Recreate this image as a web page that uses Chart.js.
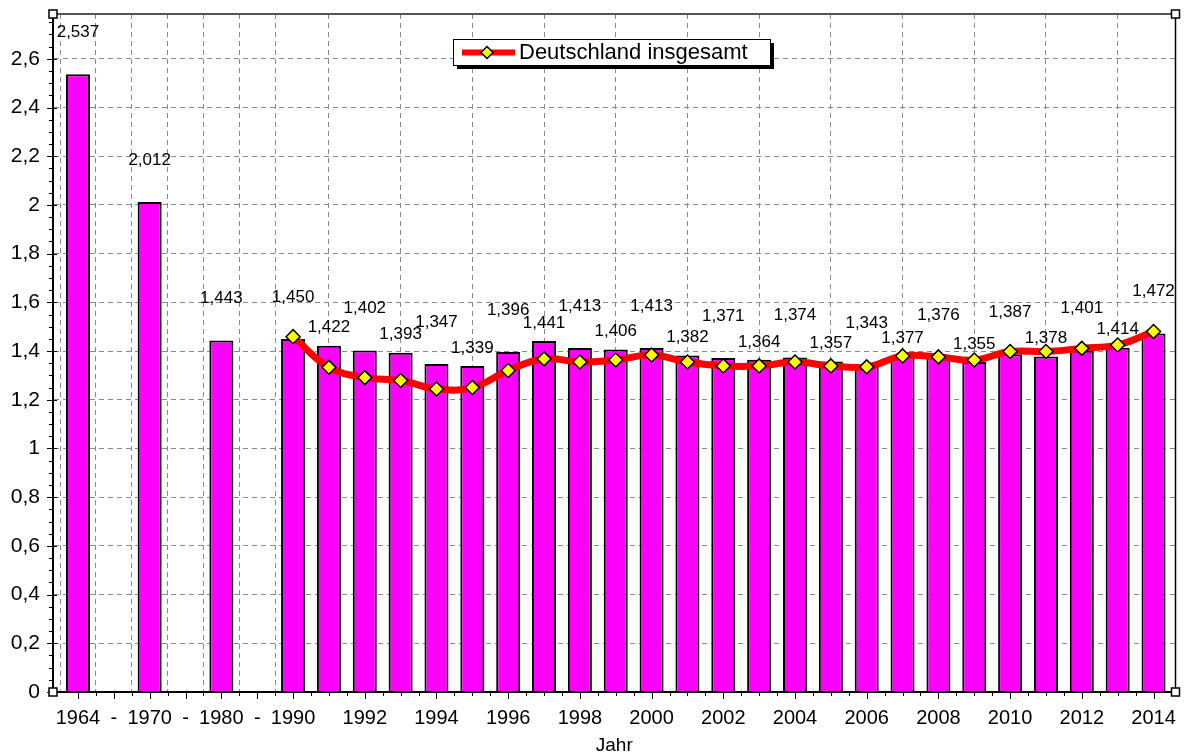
<!DOCTYPE html>
<html>
<head>
<meta charset="utf-8">
<script src="https://cdn.jsdelivr.net/npm/chart.js@4/dist/chart.umd.min.js"></script>
<style>
  html, body { margin: 0; padding: 0; background: #fff; }
  #wrap { width: 1184px; height: 755px; }
</style>
</head>
<body>
<div id="wrap"><canvas id="c" width="1184" height="755"></canvas></div>
<script>
// ---- data ----
const categories = ["1964","-","1970","-","1980","-","1990","1991","1992","1993","1994","1995","1996","1997","1998","1999","2000","2001","2002","2003","2004","2005","2006","2007","2008","2009","2010","2011","2012","2013","2014"];
const barValues = [2.537,null,2.012,null,1.443,null,1.450,1.422,1.402,1.393,1.347,1.339,1.396,1.441,1.413,1.406,1.413,1.382,1.371,1.364,1.374,1.357,1.343,1.377,1.376,1.355,1.387,1.378,1.401,1.414,1.472];
const lineYears = ["1990","1991","1992","1993","1994","1995","1996","1997","1998","1999","2000","2001","2002","2003","2004","2005","2006","2007","2008","2009","2010","2011","2012","2013","2014"];
const lineValues = [1.459,1.333,1.291,1.279,1.244,1.250,1.320,1.368,1.355,1.363,1.384,1.355,1.339,1.339,1.355,1.339,1.335,1.380,1.376,1.363,1.398,1.398,1.411,1.425,1.480];
const lineLabel = "Deutschland insgesamt";
const yTicks = [0,0.2,0.4,0.6,0.8,1,1.2,1.4,1.6,1.8,2,2.2,2.4,2.6];
const yTickLabels = ["0","0,2","0,4","0,6","0,8","1","1,2","1,4","1,6","1,8","2","2,2","2,4","2,6"];
const xTickLabels = ["1964","-","1970","-","1980","-","1990","1992","1994","1996","1998","2000","2002","2004","2006","2008","2010","2012","2014"];
const xTitle = "Jahr";

// ---- derived structures ----
const FONT = "'Liberation Sans', Arial, sans-serif";
const barData = categories.map((c, i) => ({ x: i, y: barValues[i] })).filter(p => p.y !== null);
const lineData = lineYears.map((yr, i) => ({ x: categories.indexOf(yr), y: lineValues[i] }));
const xTickIdx = xTickLabels.map((lab, i) => i < 6 ? i : categories.indexOf(lab));

const fmt = v => v.toFixed(3).replace('.', ',');

const decor = {
  id: 'decor',
  beforeDraw(chart) {
    const ctx = chart.ctx;
    ctx.save();
    ctx.fillStyle = '#fff';
    ctx.fillRect(0, 0, chart.width, chart.height);
    ctx.restore();
  },
  afterDatasetsDraw(chart) {
    const ctx = chart.ctx;
    const meta = chart.getDatasetMeta(0);
    ctx.save();
    ctx.font = '17px ' + FONT;
    ctx.fillStyle = '#000';
    ctx.textAlign = 'center';
    ctx.textBaseline = 'middle';
    meta.data.forEach((el, j) => {
      const p = chart.data.datasets[0].data[j];
      const off = (p.x % 2 === 0) ? 42 : 18;
      ctx.fillText(fmt(p.y), el.x, el.y - off);
    });
    ctx.restore();
  },
  afterDraw(chart) {
    const ctx = chart.ctx;
    const a = chart.chartArea;
    const xs = chart.scales.x, ys = chart.scales.y;
    ctx.save();
    // top & right frame
    ctx.lineWidth = 2;
    ctx.strokeStyle = '#555';
    ctx.beginPath(); ctx.moveTo(a.left, a.top); ctx.lineTo(a.right, a.top); ctx.stroke();
    ctx.lineWidth = 1.5;
    ctx.strokeStyle = '#000';
    ctx.beginPath(); ctx.moveTo(a.right, a.top); ctx.lineTo(a.right, a.bottom); ctx.stroke();
    // y ticks
    ctx.lineWidth = 1;
    ctx.strokeStyle = '#000';
    for (let k = 0; k <= 55; k++) {
      const v = k * 0.05;
      if (v > ys.max) break;
      const py = Math.round(ys.getPixelForValue(v)) + 0.5;
      const major = k % 4 === 0;
      ctx.beginPath();
      ctx.moveTo(a.left - (major ? 6 : 4), py);
      ctx.lineTo(a.left + (major ? 4 : 0), py);
      ctx.stroke();
    }
    // x ticks
    for (let k = 0; k <= 60; k++) {
      const v = k * 0.5;
      const px = Math.round(xs.getPixelForValue(v)) + 0.5;
      ctx.beginPath();
      ctx.moveTo(px, a.bottom);
      ctx.lineTo(px, a.bottom + 4);
      ctx.stroke();
    }
    xTickIdx.forEach(i => {
      const px = Math.round(xs.getPixelForValue(i)) + 0.5;
      ctx.beginPath();
      ctx.moveTo(px, a.bottom);
      ctx.lineTo(px, a.bottom + 7);
      ctx.stroke();
    });
    // corner handles
    ctx.fillStyle = '#fff';
    ctx.strokeStyle = '#000';
    ctx.lineWidth = 1.5;
    [[a.left, a.top], [a.right, a.top], [a.left, a.bottom], [a.right, a.bottom]].forEach(([cx, cy]) => {
      ctx.fillRect(cx - 4, cy - 4, 8, 8);
      ctx.strokeRect(cx - 4, cy - 4, 8, 8);
    });
    // legend box
    const ds = chart.data.datasets[1];
    const lx = a.left + 400, ly = a.top + 25, lw = 317, lh = 26;
    ctx.fillStyle = '#000';
    ctx.fillRect(lx + 4, ly + 4, lw, lh);
    ctx.fillStyle = '#fff';
    ctx.fillRect(lx, ly, lw, lh);
    ctx.lineWidth = 1;
    ctx.strokeStyle = '#000';
    ctx.strokeRect(lx + 0.5, ly + 0.5, lw, lh);
    const cy = ly + lh / 2 + 0.5;
    ctx.strokeStyle = ds.borderColor;
    ctx.lineWidth = 6;
    ctx.beginPath(); ctx.moveTo(lx + 9, cy); ctx.lineTo(lx + 62, cy); ctx.stroke();
    const mx = lx + 34;
    ctx.fillStyle = ds.pointBackgroundColor;
    ctx.strokeStyle = '#000';
    ctx.lineWidth = 1.5;
    ctx.beginPath();
    ctx.moveTo(mx, cy - 6); ctx.lineTo(mx + 6, cy); ctx.lineTo(mx, cy + 6); ctx.lineTo(mx - 6, cy); ctx.closePath();
    ctx.fill(); ctx.stroke();
    ctx.fillStyle = '#000';
    ctx.font = '22px ' + FONT;
    ctx.textAlign = 'left';
    ctx.textBaseline = 'middle';
    ctx.fillText(ds.label, lx + 66, cy);
    ctx.restore();
  }
};

new Chart(document.getElementById('c'), {
  type: 'bar',
  data: {
    datasets: [
      {
        type: 'bar',
        label: 'Wert',
        data: barData,
        backgroundColor: '#ff00ff',
        borderColor: '#000',
        borderWidth: 2,
        borderSkipped: 'bottom',
        categoryPercentage: 1,
        barPercentage: 0.67,
        order: 1
      },
      {
        type: 'line',
        label: lineLabel,
        data: lineData,
        borderColor: '#ff0000',
        borderWidth: 7,
        tension: 0.4,
        fill: false,
        pointStyle: 'rectRot',
        pointRadius: 7,
        pointBackgroundColor: '#ffff00',
        pointBorderColor: '#000',
        pointBorderWidth: 1.5,
        order: 0
      }
    ]
  },
  options: {
    responsive: false,
    animation: false,
    layout: { padding: { top: 14, right: 7, left: 0, bottom: 0 } },
    plugins: {
      legend: { display: false },
      tooltip: { enabled: false },
      title: { display: false }
    },
    scales: {
      x: {
        type: 'linear',
        bounds: 'data',
        offset: false,
        min: -0.696,
        max: 30.613,
        afterBuildTicks: s => { s.ticks = xTickIdx.map(v => ({ value: v })); },
        afterFit: s => { s.height = 63; s.paddingLeft = 0; s.paddingRight = 0; s.paddingTop = 0; s.paddingBottom = 0; },
        ticks: {
          autoSkip: false,
          maxRotation: 0,
          minRotation: 0,
          padding: 16,
          color: '#000',
          font: { family: FONT, size: 20, lineHeight: 1 },
          callback: v => categories[Math.round(v)]
        },
        grid: {
          drawTicks: false,
          color: '#8a8a8a',
          lineWidth: 1
        },
        border: { display: true, color: '#000', width: 2, dash: [5, 4] },
        title: {
          display: true,
          text: xTitle,
          color: '#000',
          font: { family: FONT, size: 19, lineHeight: 1 },
          padding: { top: 0, bottom: 0 }
        }
      },
      y: {
        type: 'linear',
        bounds: 'data',
        min: 0,
        max: 2.784,
        afterBuildTicks: s => { s.ticks = yTicks.map(v => ({ value: v })); },
        afterFit: s => { s.width = 53; s.paddingLeft = 0; s.paddingRight = 0; s.paddingTop = 0; s.paddingBottom = 0; },
        ticks: {
          padding: 13,
          color: '#000',
          font: { family: FONT, size: 21 },
          callback: (v, i) => yTickLabels[i]
        },
        grid: {
          drawTicks: false,
          color: '#8a8a8a',
          lineWidth: 1
        },
        border: { display: true, color: '#000', width: 2, dash: [5, 4] }
      }
    }
  },
  plugins: [decor]
});
</script>
</body>
</html>
